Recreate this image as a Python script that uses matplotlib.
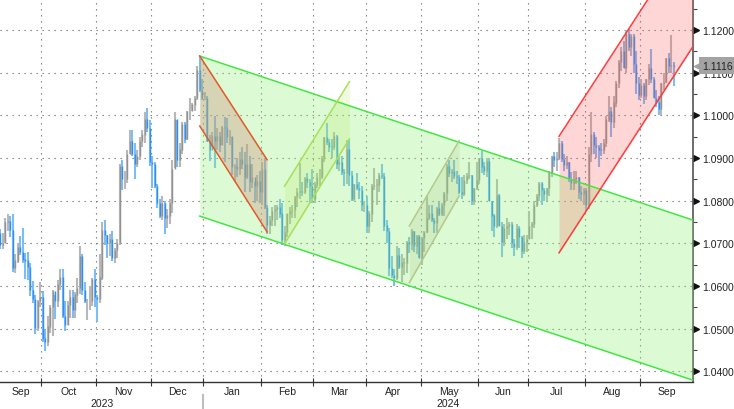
import numpy as np
import pandas as pd
import matplotlib
matplotlib.use("Agg")
import matplotlib.pyplot as plt

# daily EUR/USD bars: close / high / low for each month
first_open = 1.0725

close_sep23 = [1.0697, 1.0700, 1.0750, 1.0753, 1.0732, 1.0642, 1.0660, 1.0690, 1.0679, 1.0662, 1.0660, 1.0645, 1.0590, 1.0570, 1.0503, 1.0565, 1.0573]
high_sep23 = [1.0733, 1.0724, 1.0759, 1.0768, 1.0765, 1.0768, 1.0675, 1.0700, 1.0718, 1.0737, 1.0677, 1.0679, 1.0653, 1.0613, 1.0580, 1.0568, 1.0609]
low_sep23 = [1.0686, 1.0686, 1.0701, 1.0730, 1.0715, 1.0632, 1.0631, 1.0653, 1.0672, 1.0653, 1.0617, 1.0615, 1.0576, 1.0560, 1.0488, 1.0496, 1.0552]

close_oct23 = [1.0477, 1.0468, 1.0505, 1.0550, 1.0588, 1.0565, 1.0605, 1.0620, 1.0530, 1.0510, 1.0555, 1.0575, 1.0545, 1.0580, 1.0595, 1.0670, 1.0590, 1.0565, 1.0565, 1.0565, 1.0617, 1.0575]
high_oct23 = [1.0588, 1.0500, 1.0530, 1.0555, 1.0590, 1.0580, 1.0615, 1.0640, 1.0641, 1.0565, 1.0565, 1.0590, 1.0590, 1.0587, 1.0620, 1.0695, 1.0675, 1.0610, 1.0570, 1.0600, 1.0620, 1.0640]
low_oct23 = [1.0470, 1.0448, 1.0460, 1.0490, 1.0483, 1.0522, 1.0550, 1.0590, 1.0525, 1.0495, 1.0510, 1.0525, 1.0525, 1.0525, 1.0560, 1.0582, 1.0580, 1.0560, 1.0520, 1.0545, 1.0553, 1.0550]

close_nov23 = [1.0570, 1.0620, 1.0730, 1.0720, 1.0700, 1.0710, 1.0665, 1.0685, 1.0700, 1.0880, 1.0850, 1.0850, 1.0910, 1.0940, 1.0910, 1.0887, 1.0905, 1.0940, 1.0955, 1.0990, 1.0970, 1.0890]
high_nov23 = [1.0580, 1.0675, 1.0750, 1.0755, 1.0720, 1.0723, 1.0730, 1.0690, 1.0710, 1.0887, 1.0895, 1.0870, 1.0918, 1.0965, 1.0965, 1.0935, 1.0920, 1.0950, 1.0965, 1.1009, 1.1017, 1.0990]
low_nov23 = [1.0517, 1.0560, 1.0615, 1.0696, 1.0666, 1.0670, 1.0660, 1.0655, 1.0665, 1.0696, 1.0825, 1.0827, 1.0842, 1.0910, 1.0905, 1.0852, 1.0880, 1.0895, 1.0925, 1.0935, 1.0962, 1.0882]

close_dec23 = [1.0885, 1.0835, 1.0795, 1.0765, 1.0795, 1.0760, 1.0765, 1.0795, 1.0875, 1.0990, 1.0895, 1.0920, 1.0980, 1.0945, 1.1010, 1.1010, 1.1025, 1.1040, 1.1105, 1.1060, 1.1040]
high_dec23 = [1.0905, 1.0890, 1.0840, 1.0805, 1.0810, 1.0800, 1.0780, 1.0805, 1.0895, 1.1009, 1.0990, 1.0935, 1.0985, 1.0985, 1.1010, 1.1040, 1.1030, 1.1045, 1.1115, 1.1139, 1.1085]
low_dec23 = [1.0829, 1.0830, 1.0782, 1.0760, 1.0755, 1.0723, 1.0737, 1.0745, 1.0772, 1.0877, 1.0880, 1.0880, 1.0910, 1.0935, 1.0943, 1.0990, 1.1010, 1.1010, 1.1035, 1.1055, 1.1035]

close_jan24 = [1.1040, 1.0940, 1.0920, 1.0950, 1.0940, 1.0950, 1.0930, 1.0973, 1.0970, 1.0950, 1.0950, 1.0880, 1.0880, 1.0875, 1.0897, 1.0885, 1.0855, 1.0885, 1.0845, 1.0855, 1.0835, 1.0845, 1.0820]
high_jan24 = [1.1055, 1.1045, 1.0955, 1.0960, 1.0998, 1.0970, 1.0960, 1.0975, 1.0997, 1.0995, 1.0965, 1.0950, 1.0885, 1.0900, 1.0915, 1.0925, 1.0915, 1.0932, 1.0905, 1.0885, 1.0845, 1.0860, 1.0870]
low_jan24 = [1.1035, 1.0937, 1.0892, 1.0925, 1.0877, 1.0920, 1.0915, 1.0930, 1.0890, 1.0935, 1.0930, 1.0860, 1.0845, 1.0855, 1.0860, 1.0875, 1.0820, 1.0850, 1.0820, 1.0830, 1.0795, 1.0800, 1.0795]

close_feb24 = [1.0873, 1.0785, 1.0743, 1.0755, 1.0775, 1.0780, 1.0785, 1.0770, 1.0707, 1.0727, 1.0770, 1.0775, 1.0778, 1.0808, 1.0820, 1.0822, 1.0820, 1.0852, 1.0843, 1.0835, 1.0805]
high_feb24 = [1.0890, 1.0897, 1.0790, 1.0765, 1.0785, 1.0790, 1.0790, 1.0805, 1.0795, 1.0740, 1.0770, 1.0785, 1.0790, 1.0810, 1.0830, 1.0888, 1.0845, 1.0855, 1.0865, 1.0850, 1.0875]
low_feb24 = [1.0790, 1.0780, 1.0723, 1.0723, 1.0740, 1.0740, 1.0755, 1.0760, 1.0697, 1.0695, 1.0715, 1.0745, 1.0760, 1.0760, 1.0785, 1.0805, 1.0810, 1.0815, 1.0830, 1.0795, 1.0795]

close_mar24 = [1.0838, 1.0855, 1.0855, 1.0900, 1.0948, 1.0938, 1.0927, 1.0925, 1.0950, 1.0885, 1.0890, 1.0868, 1.0865, 1.0920, 1.0860, 1.0805, 1.0838, 1.0830, 1.0825, 1.0790, 1.0790]
high_mar24 = [1.0845, 1.0865, 1.0875, 1.0905, 1.0950, 1.0981, 1.0945, 1.0945, 1.0960, 1.0955, 1.0905, 1.0905, 1.0875, 1.0942, 1.0942, 1.0870, 1.0840, 1.0865, 1.0845, 1.0835, 1.0800]
low_mar24 = [1.0795, 1.0830, 1.0835, 1.0850, 1.0890, 1.0930, 1.0915, 1.0900, 1.0920, 1.0875, 1.0870, 1.0860, 1.0835, 1.0840, 1.0835, 1.0800, 1.0800, 1.0825, 1.0805, 1.0775, 1.0773]

close_apr24 = [1.0740, 1.0770, 1.0835, 1.0837, 1.0838, 1.0860, 1.0857, 1.0742, 1.0728, 1.0642, 1.0625, 1.0620, 1.0672, 1.0645, 1.0655, 1.0655, 1.0703, 1.0698, 1.0728, 1.0695, 1.0718, 1.0665]
high_apr24 = [1.0810, 1.0775, 1.0840, 1.0876, 1.0850, 1.0865, 1.0885, 1.0865, 1.0755, 1.0735, 1.0670, 1.0640, 1.0695, 1.0690, 1.0675, 1.0665, 1.0705, 1.0715, 1.0733, 1.0730, 1.0720, 1.0720]
low_apr24 = [1.0725, 1.0725, 1.0750, 1.0825, 1.0790, 1.0820, 1.0850, 1.0728, 1.0700, 1.0623, 1.0620, 1.0601, 1.0615, 1.0640, 1.0610, 1.0625, 1.0630, 1.0678, 1.0685, 1.0680, 1.0675, 1.0665]

close_may24 = [1.0712, 1.0727, 1.0760, 1.0770, 1.0755, 1.0748, 1.0782, 1.0770, 1.0790, 1.0818, 1.0882, 1.0865, 1.0870, 1.0857, 1.0855, 1.0820, 1.0815, 1.0848, 1.0857, 1.0860, 1.0800, 1.0830, 1.0848]
high_may24 = [1.0715, 1.0730, 1.0812, 1.0790, 1.0790, 1.0760, 1.0785, 1.0800, 1.0795, 1.0820, 1.0887, 1.0895, 1.0875, 1.0895, 1.0870, 1.0860, 1.0855, 1.0860, 1.0865, 1.0890, 1.0860, 1.0830, 1.0890]
low_may24 = [1.0650, 1.0680, 1.0725, 1.0755, 1.0750, 1.0725, 1.0725, 1.0765, 1.0765, 1.0765, 1.0800, 1.0855, 1.0845, 1.0850, 1.0840, 1.0815, 1.0805, 1.0810, 1.0840, 1.0850, 1.0790, 1.0790, 1.0825]

close_jun24 = [1.0900, 1.0880, 1.0870, 1.0893, 1.0800, 1.0765, 1.0740, 1.0812, 1.0740, 1.0703, 1.0735, 1.0740, 1.0745, 1.0700, 1.0692, 1.0735, 1.0715, 1.0683, 1.0703, 1.0710]
high_jun24 = [1.0900, 1.0916, 1.0890, 1.0900, 1.0900, 1.0800, 1.0770, 1.0852, 1.0815, 1.0750, 1.0745, 1.0760, 1.0750, 1.0750, 1.0710, 1.0745, 1.0740, 1.0717, 1.0720, 1.0720]
low_jun24 = [1.0840, 1.0865, 1.0860, 1.0855, 1.0800, 1.0730, 1.0715, 1.0735, 1.0740, 1.0668, 1.0695, 1.0710, 1.0720, 1.0690, 1.0670, 1.0685, 1.0690, 1.0665, 1.0675, 1.0680]

close_jul24 = [1.0740, 1.0745, 1.0790, 1.0810, 1.0840, 1.0825, 1.0815, 1.0830, 1.0865, 1.0905, 1.0895, 1.0900, 1.0935, 1.0898, 1.0883, 1.0890, 1.0850, 1.0842, 1.0850, 1.0855, 1.0820, 1.0815, 1.0825]
high_jul24 = [1.0776, 1.0750, 1.0800, 1.0815, 1.0845, 1.0845, 1.0830, 1.0830, 1.0870, 1.0905, 1.0915, 1.0915, 1.0948, 1.0940, 1.0910, 1.0905, 1.0890, 1.0868, 1.0870, 1.0870, 1.0855, 1.0835, 1.0830]
low_jul24 = [1.0710, 1.0710, 1.0735, 1.0785, 1.0800, 1.0790, 1.0800, 1.0800, 1.0810, 1.0855, 1.0880, 1.0870, 1.0895, 1.0890, 1.0870, 1.0875, 1.0845, 1.0825, 1.0825, 1.0840, 1.0805, 1.0800, 1.0790]

close_aug24 = [1.0790, 1.0910, 1.0955, 1.0930, 1.0925, 1.0920, 1.0918, 1.0935, 1.0990, 1.1010, 1.0985, 1.1030, 1.1075, 1.1125, 1.1150, 1.1112, 1.1190, 1.1160, 1.1185, 1.1120, 1.1075, 1.1047]
high_aug24 = [1.0830, 1.0927, 1.1008, 1.0960, 1.0950, 1.0930, 1.0935, 1.0945, 1.0998, 1.1045, 1.1020, 1.1045, 1.1080, 1.1130, 1.1160, 1.1175, 1.1200, 1.1202, 1.1190, 1.1190, 1.1150, 1.1090]
low_aug24 = [1.0777, 1.0780, 1.0890, 1.0910, 1.0900, 1.0880, 1.0905, 1.0910, 1.0925, 1.0985, 1.0950, 1.0970, 1.1020, 1.1065, 1.1105, 1.1110, 1.1100, 1.1150, 1.1140, 1.1100, 1.1050, 1.1035]

close_sep24 = [1.1070, 1.1045, 1.1085, 1.1110, 1.1085, 1.1040, 1.1030, 1.1015, 1.1075, 1.1078, 1.1133, 1.1115, 1.1117, 1.1116]
high_sep24 = [1.1085, 1.1075, 1.1085, 1.1120, 1.1155, 1.1090, 1.1060, 1.1045, 1.1075, 1.1100, 1.1135, 1.1147, 1.1189, 1.1125]
low_sep24 = [1.1040, 1.1026, 1.1035, 1.1070, 1.1075, 1.1040, 1.1020, 1.1001, 1.1002, 1.1060, 1.1075, 1.1100, 1.1100, 1.1069]

# trend channels: (date, price) at each end of each line
green_up = [("2023-12-28", 1.1139), ("2024-09-30", 1.0756)]
green_lo = [("2023-12-28", 1.0764), ("2024-09-30", 1.0381)]
red1_up = [("2023-12-28", 1.1139), ("2024-02-05", 1.0896)]
red1_lo = [("2023-12-28", 1.0975), ("2024-02-05", 1.0727)]
lime1_up = [("2024-02-14", 1.0834), ("2024-03-21", 1.1079)]
lime1_lo = [("2024-02-14", 1.0699), ("2024-03-21", 1.0945)]
olive_up = [("2024-04-24", 1.0741), ("2024-05-22", 1.0941)]
olive_lo = [("2024-04-24", 1.0608), ("2024-05-22", 1.0812)]
red2_up = [("2024-07-17", 1.0951), ("2024-09-30", 1.1428)]
red2_lo = [("2024-07-17", 1.0678), ("2024-09-30", 1.1155)]

closes = np.array(close_sep23 + close_oct23 + close_nov23 + close_dec23 + close_jan24 + close_feb24
                  + close_mar24 + close_apr24 + close_may24 + close_jun24 + close_jul24 + close_aug24 + close_sep24)
highs = np.array(high_sep23 + high_oct23 + high_nov23 + high_dec23 + high_jan24 + high_feb24
                 + high_mar24 + high_apr24 + high_may24 + high_jun24 + high_jul24 + high_aug24 + high_sep24)
lows = np.array(low_sep23 + low_oct23 + low_nov23 + low_dec23 + low_jan24 + low_feb24
                + low_mar24 + low_apr24 + low_may24 + low_jun24 + low_jul24 + low_aug24 + low_sep24)
opens = np.r_[first_open, closes[:-1]]

dates = pd.bdate_range("2023-09-07", "2024-09-30")
n = len(closes)
assert len(highs) == n and len(lows) == n, (n, len(highs), len(lows))
x = np.arange(n)

def pos(d):
    return dates.get_loc(pd.Timestamp(d))

xl, xr = -0.06, 277.7

plt.rcParams['font.family'] = ['Liberation Sans', 'DejaVu Sans']
fig = plt.figure(figsize=(7.34, 4.10), dpi=100)
ax = fig.add_axes([0, 27 / 410, 693 / 734, 383 / 410])

# bars: grey = up day, blue = down day
up = closes >= opens
ax.vlines(x, lows, highs, colors=np.where(up, "#b8b8b8", "#7dbcf5"), lw=1.5, zorder=2)
ax.vlines(x, np.minimum(opens, closes), np.maximum(opens, closes) + 0.00005,
          colors=np.where(up, "#929292", "#2f8ff0"), lw=1.0, zorder=2.1)

def seg(pts, to_edge=False):
    (d0, v0), (d1, v1) = pts
    x0, x1 = pos(d0), pos(d1)
    if to_edge:
        v1 = v0 + (v1 - v0) * (xr - x0) / (x1 - x0)
        x1 = xr
    return np.array([x0, x1]), np.array([v0, v1])

def channel(upper, lower, fill, alpha, edge, to_edge=False):
    xu, yu = seg(upper, to_edge)
    xlo, ylo = seg(lower, to_edge)
    ax.fill_between(xu, ylo, yu, color=fill, alpha=alpha, lw=0, zorder=3)
    ax.plot(xu, yu, color=edge, lw=1.1, zorder=4)
    ax.plot(xlo, ylo, color=edge, lw=1.1, zorder=4)

channel(green_up, green_lo, "#8cf273", 0.3, "#44e644", to_edge=True)
channel(red1_up, red1_lo, "#d0897c", 0.35, "#e05a2a")
channel(lime1_up, lime1_lo, "#b4e65a", 0.2, "#a6e05a")
channel(olive_up, olive_lo, "#a0b478", 0.18, "#b4c88c")
channel(red2_up, red2_lo, "#ff5c5c", 0.25, "#ff3b3b", to_edge=True)

ax.set_xlim(xl, xr)
ax.set_ylim(1.03754, 1.12726)

# month boundaries, month and year labels
months = dates.to_period("M")
bounds = [i - 0.5 for i in range(1, len(dates)) if months[i] != months[i - 1] and i - 0.5 < xr]
year_bounds = [i - 0.5 for i in range(1, len(dates)) if dates[i].year != dates[i - 1].year]
ax.set_xticks(bounds)
ax.set_xticklabels([])
ax.tick_params(axis="x", direction="inout", length=6, width=0.8, color="#333")

edges = [xl] + bounds + [xr]
for a, b in zip(edges[:-1], edges[1:]):
    d = dates[int(round(a + 0.5))]
    ax.text((a + b) / 2, -0.024, d.strftime("%b"), transform=ax.get_xaxis_transform(),
            ha="center", va="center", fontsize=7.5, color="#222")
yedges = [xl] + year_bounds + [xr]
for a, b in zip(yedges[:-1], yedges[1:]):
    d = dates[int(round(a + 0.5))]
    ax.text((a + b) / 2, -0.054, str(d.year), transform=ax.get_xaxis_transform(),
            ha="center", va="center", fontsize=7.5, color="#222")
for b in year_bounds:
    ax.plot([b, b], [-0.034, -0.075], transform=ax.get_xaxis_transform(), clip_on=False,
            color="#bdbdbd", lw=1.5)

# price axis on the right
yt = np.round(np.arange(1.04, 1.1201, 0.01), 2)
ax.yaxis.tick_right()
ax.set_yticks(yt)
ax.set_yticks(np.round(np.arange(1.045, 1.126, 0.01), 3), minor=True)
ax.set_yticklabels([f"{v:.4f}" for v in yt])
ax.tick_params(axis="y", which="major", length=0, pad=6.5, labelsize=7.5, labelcolor="#222")
ax.tick_params(axis="y", which="minor", length=3, width=0.8, color="#444")
ax.plot(np.full(len(yt), 1.004), yt, ls="none", marker=">", ms=4, color="#111",
        transform=ax.get_yaxis_transform(), clip_on=False)

ax.grid(True, ls=(0, (1.2, 4.2)), color="#777", lw=0.8)
ax.set_axisbelow(True)
for s in ["left", "top"]:
    ax.spines[s].set_visible(False)
ax.spines["right"].set_color("#555")
ax.spines["right"].set_linewidth(1.2)
ax.spines["bottom"].set_color("#333")
ax.spines["bottom"].set_linewidth(1.0)

# last price tag
last = closes[-1]
ax.plot([1.0085], [last], ls="none", marker="<", ms=7, color="#a3a3a3",
        transform=ax.get_yaxis_transform(), clip_on=False, zorder=9)
ax.text(1.0135, last, f"{last:.4f}", transform=ax.get_yaxis_transform(), va="center", ha="left",
        fontsize=7.5, color="#222", zorder=10, clip_on=False,
        bbox=dict(boxstyle="square,pad=0.35", fc="#a3a3a3", ec="none"))

fig.savefig("out.png", dpi=100)
